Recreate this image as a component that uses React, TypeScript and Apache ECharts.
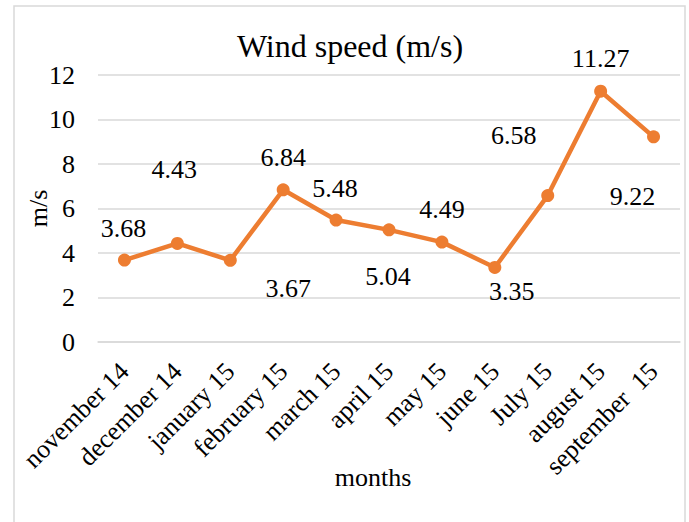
import React, { useEffect, useRef } from "react";
import * as echarts from "echarts";

const categories = [
  "november 14",
  "december 14",
  "january 15",
  "february 15",
  "march 15",
  "april 15",
  "may 15",
  "june 15",
  "July 15",
  "august 15",
  "september  15",
];
const windSpeed = [3.68, 4.43, 3.67, 6.84, 5.48, 5.04, 4.49, 3.35, 6.58, 11.27, 9.22];
// label offsets (px) relative to each point, as placed in the reference
const labelOffsets: [number, number][] = [
  [-1, -32],
  [-3, -74],
  [58, 28],
  [0, -32],
  [-1, -32],
  [-1, 47],
  [0, -33],
  [17, 24],
  [-34, -60],
  [0, -33],
  [-21, 60],
];

const FONT = "'Liberation Serif', 'Times New Roman', serif";

export default function App() {
  const ref = useRef<HTMLDivElement>(null);
  useEffect(() => {
    if (!ref.current) return;
    const chart = echarts.init(ref.current, null, { renderer: "svg" });
    const labelStyle = {
      fontFamily: FONT,
      fontSize: 26,
      color: "#000",
    };
    chart.setOption({
      animation: false,
      backgroundColor: "#ffffff",
      textStyle: { fontFamily: FONT },
      title: {
        text: "Wind speed (m/s)",
        left: 345,
        top: 25,
        textAlign: "center",
        textStyle: { fontFamily: FONT, fontSize: 32, fontWeight: "normal", color: "#000" },
      },
      graphic: [
        {
          type: "rect",
          shape: { x: 14, y: 6, width: 671, height: 540 },
          style: { fill: "none", stroke: "#D9D9D9", lineWidth: 1.5 },
          silent: true,
        },
      ],
      grid: { left: 98, right: 9, top: 75, bottom: 180 },
      xAxis: {
        type: "category",
        data: categories,
        boundaryGap: true,
        axisLine: { show: true, lineStyle: { color: "#D9D9D9", width: 1.5 } },
        axisTick: { show: false },
        axisLabel: {
          rotate: 45,
          margin: 25,
          interval: 0,
          fontFamily: FONT,
          fontSize: 26,
          color: "#000",
        },
        name: "months",
        nameLocation: "middle",
        nameGap: 122,
        nameMoveOverlap: false,
        nameTextStyle: { fontFamily: FONT, fontSize: 26, color: "#000", padding: [0, 32, 0, 0] },
      },
      yAxis: {
        type: "value",
        min: 0,
        max: 12,
        interval: 2,
        axisLine: { show: false },
        axisTick: { show: false },
        splitLine: { lineStyle: { color: "#D9D9D9", width: 1.5 } },
        axisLabel: { margin: 23, fontFamily: FONT, fontSize: 26, color: "#000" },
        name: "m/s",
        nameLocation: "middle",
        nameGap: 47,
        nameRotate: 90,
        nameMoveOverlap: false,
        nameTextStyle: { fontFamily: FONT, fontSize: 26, color: "#000" },
      },
      series: [
        {
          type: "line",
          data: windSpeed.map((v, i) => ({
            value: v,
            label: {
              show: true,
              position: "inside",
              offset: labelOffsets[i],
              ...labelStyle,
            },
          })),
          symbol: "circle",
          symbolSize: 13,
          itemStyle: { color: "#ED7D31" },
          lineStyle: { color: "#ED7D31", width: 4.5 },
          label: {
            show: true,
            ...labelStyle,
            formatter: (p: any) => p.value.toFixed(2),
          },
        },
      ],
    });
    return () => chart.dispose();
  }, []);
  return (
    <div
      ref={ref}
      style={{ position: "fixed", left: 0, top: 0, width: 689, height: 522 }}
    />
  );
}
